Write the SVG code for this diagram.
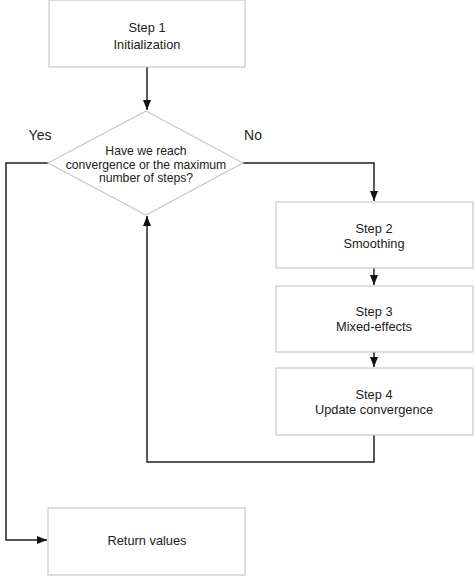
<svg xmlns="http://www.w3.org/2000/svg" width="474" height="576" viewBox="0 0 474 576">
<style>
.box{fill:#fff;stroke:#c8c8c8;stroke-width:1.2}
.t{font-family:"Liberation Sans",Arial,sans-serif;font-size:12.8px;fill:#222;text-anchor:middle}
.d{font-family:"Liberation Sans",Arial,sans-serif;font-size:12.2px;fill:#222;text-anchor:middle}
.lab{font-family:"Liberation Sans",Arial,sans-serif;font-size:14px;fill:#222;text-anchor:middle}
.c{fill:none;stroke:#222;stroke-width:1.5}
</style>
<defs>
<marker id="ah" viewBox="0 0 10 8" refX="10" refY="4" markerWidth="10" markerHeight="8" markerUnits="userSpaceOnUse" orient="auto">
<path d="M0,0 L10,4 L0,8 z" fill="#111"/>
</marker>
</defs>
<rect width="474" height="576" fill="#fff"/>
<g id="connectors">
<path class="c" d="M147,67 V110" marker-end="url(#ah)"/>
<path class="c" d="M48,163 H6 V540 H47" marker-end="url(#ah)"/>
<path class="c" d="M243,163 H374 V201" marker-end="url(#ah)"/>
<path class="c" d="M374,268 V285" marker-end="url(#ah)"/>
<path class="c" d="M374,352 V367" marker-end="url(#ah)"/>
<path class="c" d="M374,435 V462 H147 V216" marker-end="url(#ah)"/>
</g>
<g id="step1">
<rect class="box" x="49" y="0" width="196" height="67"/>
<text class="t" x="147" y="32">Step 1</text>
<text class="t" x="147" y="49">Initialization</text>
</g>
<g id="decision">
<polygon class="box" points="146,111 243,163 146,215 48,163"/>
<text class="d" x="146" y="155">Have we reach</text>
<text class="d" x="146" y="168.5">convergence or the maximum</text>
<text class="d" x="146" y="182">number of steps?</text>
</g>
<g id="labels">
<text class="lab" x="40" y="140">Yes</text>
<text class="lab" x="253" y="140">No</text>
</g>
<g id="step2">
<rect class="box" x="276" y="202" width="197" height="66"/>
<text class="t" x="374" y="233">Step 2</text>
<text class="t" x="374" y="248">Smoothing</text>
</g>
<g id="step3">
<rect class="box" x="276" y="286" width="197" height="66"/>
<text class="t" x="374" y="316">Step 3</text>
<text class="t" x="374" y="331">Mixed-effects</text>
</g>
<g id="step4">
<rect class="box" x="276" y="368" width="197" height="67"/>
<text class="t" x="374" y="399">Step 4</text>
<text class="t" x="374" y="414">Update convergence</text>
</g>
<g id="return">
<rect class="box" x="48" y="508" width="197" height="67"/>
<text class="t" x="147" y="545">Return values</text>
</g>
</svg>
